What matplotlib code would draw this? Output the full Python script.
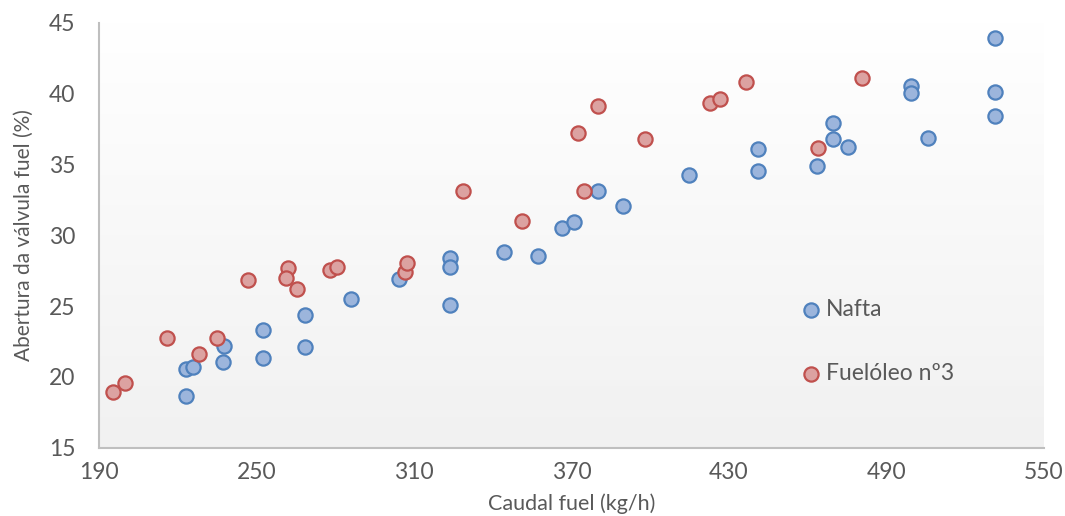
import matplotlib
matplotlib.use("Agg")
import matplotlib.pyplot as plt
import numpy as np

# Caudal fuel (kg/h) vs abertura da válvula (%)
nafta_x = [223.0, 225.9, 223.0, 237.6, 237.4, 252.6, 252.6, 268.5, 268.5, 285.9,
           304.3, 323.7, 323.7, 323.7, 344.4, 357.4, 366.3, 371.0, 380.2, 389.7,
           414.6, 441.2, 441.2, 463.7, 469.5, 469.5, 475.3, 499.3, 499.3, 505.7,
           531.5, 531.5, 531.5]
nafta_y = [20.55, 20.72, 18.67, 22.2, 21.03, 23.31, 21.35, 24.34, 22.13, 25.47,
           26.88, 28.37, 27.77, 25.07, 28.79, 28.53, 30.48, 30.95, 33.12, 32.06,
           34.25, 36.08, 34.55, 34.88, 37.94, 36.76, 36.24, 40.53, 40.01, 36.86,
           43.89, 40.1, 38.43]

fuel3_x = [195.4, 199.9, 215.8, 228.2, 234.8, 246.9, 262.1, 261.1, 265.5, 278.0,
           280.8, 306.6, 307.5, 328.8, 351.0, 372.3, 374.8, 380.2, 398.0, 422.8,
           426.6, 436.4, 480.8, 463.8]
fuel3_y = [18.95, 19.54, 22.76, 21.59, 22.72, 26.83, 27.66, 26.95, 26.2, 27.54,
           27.77, 27.42, 28.06, 33.12, 31.02, 37.23, 33.14, 39.11, 36.76, 39.3,
           39.6, 40.79, 41.09, 36.17]

xticks = [190, 250, 310, 370, 430, 490, 550]
yticks = [15, 20, 25, 30, 35, 40, 45]

plt.rcParams['font.family'] = ['Lato', 'DejaVu Sans']
txt = '#595959'

fig = plt.figure(figsize=(10.65, 5.16), dpi=100)
ax = fig.add_axes([99 / 1065, (516 - 447.7) / 516, 945 / 1065, 425 / 516])

# soft vertical gradient in the plot area
grad = np.linspace(0, 1, 256).reshape(-1, 1)
cmap = matplotlib.colors.LinearSegmentedColormap.from_list('bg', ['#ffffff', '#f1f1f1'])
ax.imshow(grad, extent=[0, 1, 0, 1], transform=ax.transAxes, aspect='auto',
          cmap=cmap, zorder=0)

ax.scatter(nafta_x, nafta_y, s=105, c='#9cb5dc', edgecolors='#4f81bd',
           linewidths=1.6, zorder=3, label='Nafta')
ax.scatter(fuel3_x, fuel3_y, s=105, c='#dca2a1', edgecolors='#c0504d',
           linewidths=1.6, zorder=3, label='Fuelóleo nº3')

ax.set_xlim(190, 550)
ax.set_ylim(15, 45)
ax.set_xticks(xticks)
ax.set_yticks(yticks)
ax.tick_params(length=0, labelsize=16.5, labelcolor=txt)
ax.tick_params(axis='y', pad=17)
ax.tick_params(axis='x', pad=10)

for side in ['top', 'right']:
    ax.spines[side].set_visible(False)
for side in ['left', 'bottom']:
    ax.spines[side].set_color('#bfbfbf')
    ax.spines[side].set_linewidth(1.5)

ax.set_xlabel('Caudal fuel (kg/h)', fontsize=15.5, color=txt, labelpad=8)
ax.set_ylabel('Abertura da válvula fuel (%)', fontsize=15, color=txt, labelpad=11)

leg = ax.legend(loc='center left', bbox_to_anchor=(0.745, 0.25), frameon=False,
                fontsize=16.5, labelcolor=txt, handlelength=0.7, handletextpad=0.3,
                labelspacing=1.85, borderpad=0, borderaxespad=0, scatterpoints=1)

fig.savefig('out.png', dpi=100)
